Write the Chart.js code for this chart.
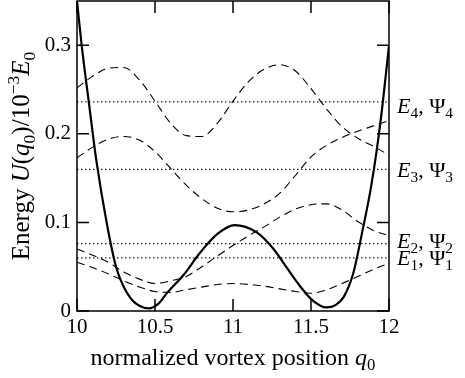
<!DOCTYPE html>
<html>
<head>
<meta charset="utf-8">
<script src="https://cdn.jsdelivr.net/npm/chart.js@4.4.1/dist/chart.umd.min.js"></script>
<style>
  body { margin: 0; background: #fff; }
</style>
</head>
<body>
<canvas id="myChart" width="465" height="378"></canvas>
<script>
// Potential U(q0)
const potQ = [10, 10.03, 10.08, 10.124, 10.19, 10.25, 10.3, 10.35, 10.4, 10.46, 10.52, 10.58, 10.68, 10.79, 10.9, 11.01, 11.15, 11.26, 11.34, 11.43, 11.51, 11.6, 11.66, 11.71, 11.77, 11.835, 11.88, 11.92, 11.96, 12];
const potU = [0.35, 0.30, 0.23, 0.17, 0.10, 0.05, 0.027, 0.013, 0.006, 0.003, 0.008, 0.021, 0.040, 0.066, 0.087, 0.097, 0.089, 0.070, 0.050, 0.028, 0.012, 0.004, 0.007, 0.016, 0.042, 0.095, 0.135, 0.18, 0.235, 0.30];

// Wavefunctions (offset to their level)
const qGrid = [10, 10.1, 10.2, 10.3, 10.4, 10.5, 10.6, 10.7, 10.8, 10.9, 11, 11.1, 11.2, 11.3, 11.4, 11.5, 11.6, 11.7, 11.8, 11.9, 12];
const psi1 = [0.055, 0.049, 0.042, 0.034, 0.027, 0.022, 0.021, 0.024, 0.027, 0.030, 0.031, 0.030, 0.028, 0.025, 0.022, 0.020, 0.024, 0.031, 0.039, 0.047, 0.054];
const psi2 = [0.070, 0.063, 0.055, 0.044, 0.036, 0.031, 0.034, 0.039, 0.050, 0.062, 0.074, 0.085, 0.095, 0.106, 0.115, 0.120, 0.121, 0.114, 0.101, 0.091, 0.085];
const psi3 = [0.173, 0.185, 0.194, 0.197, 0.193, 0.180, 0.161, 0.142, 0.127, 0.116, 0.112, 0.114, 0.121, 0.133, 0.153, 0.174, 0.187, 0.196, 0.203, 0.209, 0.215];
const psi4 = [0.252, 0.265, 0.274, 0.275, 0.261, 0.237, 0.212, 0.198, 0.197, 0.212, 0.237, 0.259, 0.273, 0.278, 0.271, 0.251, 0.228, 0.208, 0.195, 0.186, 0.176];

// Energy levels
const levels = [0.060, 0.076, 0.160, 0.236];
const levelNames = ['1', '2', '3', '4'];

// Axes
const xTicks = [10, 10.5, 11, 11.5, 12];
const xTickLabels = ['10', '10.5', '11', '11.5', '12'];
const yTicks = [0, 0.1, 0.2, 0.3];
const yTickLabels = ['0', '0.1', '0.2', '0.3'];

const serif = '"Liberation Serif", "DejaVu Serif", serif';

// little helper for text with italics / sub / sup
function segFont(kind, size) {
    const s = (kind === 'sub' || kind === 'sup') ? size * 0.7 : size;
    const it = (kind === 'i') ? 'italic ' : '';
    return it + s + 'px ' + serif;
}
function richWidth(ctx, segs, size) {
    let w = 0;
    segs.forEach(s => { ctx.font = segFont(s[1], size); w += ctx.measureText(s[0]).width; });
    return w;
}
function drawRich(ctx, segs, x, y, size) {
    let cx = x;
    segs.forEach(s => {
        ctx.font = segFont(s[1], size);
        let dy = 0;
        if (s[1] === 'sub') dy = size * 0.22;
        if (s[1] === 'sup') dy = -size * 0.4;
        ctx.fillText(s[0], cx, y + dy);
        cx += ctx.measureText(s[0]).width;
    });
}

const xTitle = [['normalized vortex position ', 'n'], ['q', 'i'], ['0', 'sub']];
const yTitle = [['Energy ', 'n'], ['U', 'i'], ['(', 'n'], ['q', 'i'], ['0', 'sub'], [')/10', 'n'], ['\u22123', 'sup'], ['E', 'i'], ['0', 'sub']];

const frame = {
    id: 'frame',
    afterDatasetsDraw(chart) {
        const ctx = chart.ctx;
        const a = chart.chartArea;
        const x = chart.scales.x;
        const y = chart.scales.y;
        ctx.save();
        ctx.strokeStyle = '#000';
        ctx.lineWidth = 1.5;
        ctx.strokeRect(a.left, a.top, a.right - a.left, a.bottom - a.top);
        // inward ticks on all four sides
        ctx.beginPath();
        xTicks.forEach(v => {
            const px = x.getPixelForValue(v);
            ctx.moveTo(px, a.bottom); ctx.lineTo(px, a.bottom - 12);
            ctx.moveTo(px, a.top); ctx.lineTo(px, a.top + 12);
        });
        yTicks.forEach(v => {
            const py = y.getPixelForValue(v);
            ctx.moveTo(a.left, py); ctx.lineTo(a.left + 12, py);
            ctx.moveTo(a.right, py); ctx.lineTo(a.right - 12, py);
        });
        ctx.stroke();

        ctx.fillStyle = '#000';
        ctx.textBaseline = 'alphabetic';
        ctx.textAlign = 'left';
        // x title
        const xs = 24;
        const xw = richWidth(ctx, xTitle, xs);
        drawRich(ctx, xTitle, (a.left + a.right) / 2 - xw / 2, 365, xs);
        // y title
        const ys = 25;
        const yw = richWidth(ctx, yTitle, ys);
        ctx.save();
        ctx.translate(29, 156);
        ctx.rotate(-Math.PI / 2);
        drawRich(ctx, yTitle, -yw / 2, 0, ys);
        ctx.restore();
        // level labels
        const nudge = [7, 4, 8, 11];
        levels.forEach((v, i) => {
            const py = y.getPixelForValue(v) + nudge[i];
            const n = levelNames[i];
            drawRich(ctx, [['E', 'i'], [n, 'sub'], [', \u03A8', 'n'], [n, 'sub']], a.right + 8, py, 22);
        });
        ctx.restore();
    }
};

function pts(xs, ys) {
    return xs.map((q, i) => ({ x: q, y: ys[i] }));
}
function levelLine(v) {
    return [{ x: 10, y: v }, { x: 12, y: v }];
}

const dashed = { borderColor: '#000', borderWidth: 1.1, borderDash: [8, 5], pointRadius: 0, cubicInterpolationMode: 'monotone' };
const dotted = { borderColor: '#222', borderWidth: 1.2, borderDash: [1.5, 2.5], pointRadius: 0 };

const data = {
    datasets: [
        { label: 'U', data: pts(potQ, potU), borderColor: '#000', borderWidth: 2.2, pointRadius: 0, cubicInterpolationMode: 'monotone' },
        Object.assign({ label: 'psi1', data: pts(qGrid, psi1) }, dashed),
        Object.assign({ label: 'psi2', data: pts(qGrid, psi2) }, dashed),
        Object.assign({ label: 'psi3', data: pts(qGrid, psi3) }, dashed),
        Object.assign({ label: 'psi4', data: pts(qGrid, psi4) }, dashed),
        Object.assign({ label: 'E1', data: levelLine(levels[0]) }, dotted),
        Object.assign({ label: 'E2', data: levelLine(levels[1]) }, dotted),
        Object.assign({ label: 'E3', data: levelLine(levels[2]) }, dotted),
        Object.assign({ label: 'E4', data: levelLine(levels[3]) }, dotted)
    ]
};

const config = {
    type: 'line',
    data: data,
    options: {
        responsive: false,
        animation: false,
        layout: { padding: { left: 17, right: 76, top: 1, bottom: 37 } },
        plugins: {
            legend: { display: false },
            tooltip: { enabled: false }
        },
        scales: {
            x: {
                type: 'linear', min: 10, max: 12,
                afterBuildTicks: s => { s.ticks = xTicks.map(v => ({ value: v })); },
                afterFit: s => { s.height = 30; s.paddingLeft = 0; s.paddingRight = 0; },
                grid: { display: false, drawTicks: false },
                border: { display: false },
                ticks: { color: '#000', padding: 4, maxRotation: 0, font: { family: serif, size: 21 },
                    callback: v => xTickLabels[xTicks.indexOf(v)] }
            },
            y: {
                type: 'linear', min: 0, max: 0.35,
                afterBuildTicks: s => { s.ticks = yTicks.map(v => ({ value: v })); },
                afterFit: s => { s.width = 60; s.paddingTop = 0; s.paddingBottom = 0; },
                grid: { display: false, drawTicks: false },
                border: { display: false },
                ticks: { color: '#000', padding: 6, font: { family: serif, size: 21 },
                    callback: v => yTickLabels[yTicks.indexOf(v)] }
            }
        }
    },
    plugins: [frame]
};

const chart = new Chart(document.getElementById('myChart'), config);
</script>
</body>
</html>
